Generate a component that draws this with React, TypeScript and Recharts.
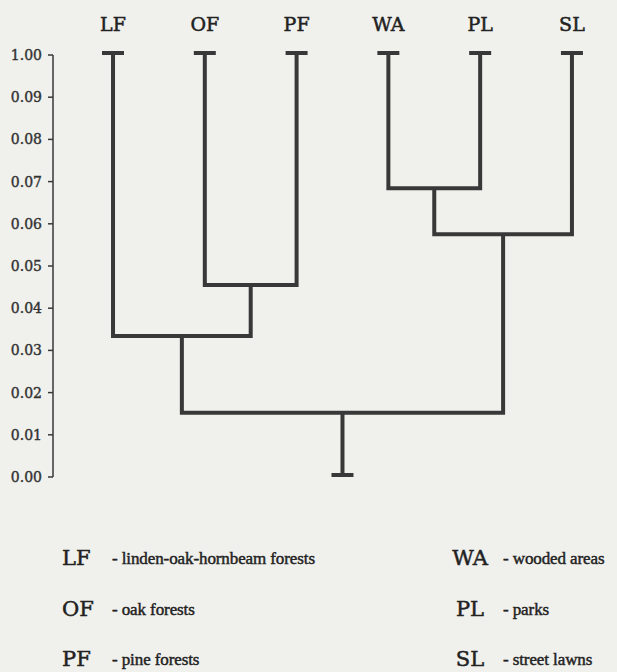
import React from 'react';
import { ComposedChart, Scatter, XAxis, YAxis } from 'recharts';

// leaf order along the top
const leaves = ['LF', 'OF', 'PF', 'WA', 'PL', 'SL'];
const leafHeight = 0.1;
const rootBase = 0;

// [left cluster, right cluster, joining height]
const merges: [string, string, number][] = [
  ['OF', 'PF', 0.0455],
  ['LF', 'OF+PF', 0.0334],
  ['WA', 'PL', 0.0684],
  ['WA+PL', 'SL', 0.0575],
  ['LF+OF+PF', 'WA+PL+SL', 0.0152],
];

const yTicks = [0, 0.01, 0.02, 0.03, 0.04, 0.05, 0.06, 0.07, 0.08, 0.09, 0.1];
const yTickLabels = ['0.00', '0.01', '0.02', '0.03', '0.04', '0.05', '0.06', '0.07', '0.08', '0.09', '1.00'];

const legendCodes = ['LF', 'OF', 'PF', 'WA', 'PL', 'SL'];
const legendNames = [
  'linden-oak-hornbeam forests',
  'oak forests',
  'pine forests',
  'wooded areas',
  'parks',
  'street lawns',
];

const INK = '#383838';
const BG = '#f0f0ec';

type Pt = { x: number; y: number };

const nodes: Record<string, Pt> = {};
leaves.forEach((l, i) => {
  nodes[l] = { x: i, y: leafHeight };
});
const branches: Pt[][] = merges.map(([a, b, h]) => {
  const A = nodes[a];
  const B = nodes[b];
  nodes[`${a}+${b}`] = { x: (A.x + B.x) / 2, y: h };
  return [
    { x: A.x, y: A.y },
    { x: A.x, y: h },
    { x: B.x, y: h },
    { x: B.x, y: B.y },
  ];
});
const root = nodes[leaves.join('+')];
const stem: Pt[] = [
  { x: root.x, y: root.y },
  { x: root.x, y: rootBase },
];
const caps: Pt[] = [...leaves.map((l) => nodes[l]), { x: root.x, y: rootBase }];

const NoDot = () => <g />;

const Cap = ({ cx, cy }: any) => (
  <line x1={cx - 11} x2={cx + 11} y1={cy - 2} y2={cy - 2} stroke={INK} strokeWidth={4} />
);

const codeStyle: React.CSSProperties = {
  position: 'absolute',
  height: 28,
  lineHeight: '28px',
  fontFamily: 'DejaVu Serif',
  fontSize: 21,
  color: '#222',
  WebkitTextStroke: '0.5px #222',
};

const nameStyle: React.CSSProperties = {
  position: 'absolute',
  height: 28,
  lineHeight: '30px',
  fontFamily: 'Liberation Serif',
  fontSize: 17,
  letterSpacing: -0.1,
  color: '#222',
  whiteSpace: 'nowrap',
  WebkitTextStroke: '0.45px #222',
};

export default function App() {
  const rows = [0, 1, 2];
  return (
    <div
      style={{
        position: 'absolute',
        left: 0,
        top: 0,
        width: 617,
        height: 672,
        background: BG,
        overflow: 'hidden',
      }}
    >
      <ComposedChart width={617} height={490} margin={{ top: 0, right: 1, bottom: 13, left: 0 }}>
        <XAxis
          dataKey="x"
          type="number"
          orientation="top"
          domain={[-0.654, 5.48]}
          ticks={[0, 1, 2, 3, 4, 5]}
          tickFormatter={(v: number) => leaves[v]}
          axisLine={false}
          tickLine={false}
          tickSize={0}
          tickMargin={24}
          height={55}
          tick={{ fill: '#222', fontSize: 19, fontFamily: 'DejaVu Serif', stroke: '#222', strokeWidth: 0.5 }}
        />
        <YAxis
          dataKey="y"
          type="number"
          domain={[0, 0.1]}
          ticks={yTicks}
          tickFormatter={(v: number) => yTickLabels[yTicks.indexOf(v)] ?? ''}
          width={53}
          tickSize={5}
          tickMargin={6}
          axisLine={{ stroke: INK, strokeWidth: 1.5 }}
          tickLine={{ stroke: INK, strokeWidth: 1.5 }}
          tick={{ fill: '#333', fontSize: 14, fontFamily: 'DejaVu Serif', stroke: '#333', strokeWidth: 0.4 }}
        />
        {branches.map((seg, i) => (
          <Scatter
            key={`branch-${i}`}
            data={seg}
            line={{ stroke: INK, strokeWidth: 4, strokeLinejoin: 'miter' }}
            shape={NoDot}
            isAnimationActive={false}
          />
        ))}
        <Scatter
          data={stem}
          line={{ stroke: INK, strokeWidth: 4 }}
          shape={NoDot}
          isAnimationActive={false}
        />
        <Scatter data={caps} shape={Cap} isAnimationActive={false} />
      </ComposedChart>

      {rows.map((r) => {
        const top = 558 + r * 50.5 - 14;
        return (
          <React.Fragment key={`row-${r}`}>
            <div style={{ ...codeStyle, left: 62, top }}>{legendCodes[r]}</div>
            <div style={{ ...nameStyle, left: 112, top }}>- {legendNames[r]}</div>
            <div style={{ ...codeStyle, left: 448, width: 44, textAlign: 'center', top }}>
              {legendCodes[r + 3]}
            </div>
            <div style={{ ...nameStyle, left: 503, top }}>- {legendNames[r + 3]}</div>
          </React.Fragment>
        );
      })}
    </div>
  );
}
